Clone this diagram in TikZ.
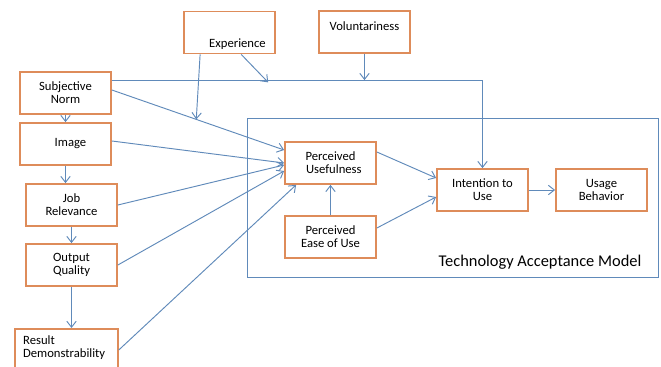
\documentclass[tikz,border=0pt]{standalone}
\usepackage{fontspec}
\setmainfont{Carlito}
\usetikzlibrary{arrows.meta}
\definecolor{boxorange}{RGB}{222,140,90}
\definecolor{lineblue}{RGB}{96,138,186}

\begin{document}
\begin{tikzpicture}[x=0.3mm,y=-0.3mm,
   box/.style={draw=boxorange,line width=1.5pt,fill=white,minimum width=2.73cm,minimum height=1.26cm,
      align=center,inner sep=1pt,font=\fontsize{10.8}{11}\selectfont},
   arr/.style={-{Straight Barb[length=1.8mm,width=2.8mm]},draw=lineblue,line width=0.8pt}]
   \clip (0,0) rectangle (661,367);
   \fill[white] (0,0) rectangle (661,367);

   \draw[lineblue,line width=0.8pt] (247,118) rectangle (658,277);
   \node (tam) at (540,262) {\fontsize{14}{16}\selectfont Technology Acceptance Model};

   \node[box,label={[xshift=2.4mm,yshift=-3.6mm]center:\fontsize{10.8}{11}\selectfont Experience}] (exp) at (229.5,32.5) {};
   \node[box] (vol) at (364.5,32) {Voluntariness\\[-1pt]};
   \node[box] (sn) at (65.5,93) {Subjective\\Norm};
   \node[box] (img) at (65.5,144) {\hspace{3mm}Image};
   \node[box] (jr) at (71.5,205) {Job\\Relevance};
   \node[box] (oq) at (71.5,265) {Output\\Quality};
   \node[box,minimum width=3.09cm,minimum height=1.5cm,anchor=north west,
      label={[anchor=north west,align=left,xshift=1.5mm,yshift=-1.2mm,font=\fontsize{10.8}{11}\selectfont]north west:Result\\Demonstrability}] (rd) at (14,328) {};
   \node[box] (pu) at (330.5,163) {Perceived\\\hspace{2mm}Usefulness};
   \node[box] (peou) at (330.5,237) {Perceived\\Ease of Use};
   \node[box] (itu) at (482.5,190) {Intention to\\Use};
   \node[box] (ub) at (601.5,190) {Usage\\Behavior};

   \coordinate (bus) at ([yshift=-2.7mm]sn.north east);
   \draw[arr] (bus) -| (itu.north);
   \draw[arr] (vol.south) -- (vol.south |- bus);
   \draw[arr] ([xshift=3.5mm]exp.south) -- ++(27,28);
   \draw[arr] ([yshift=0.9mm]sn.east) -- ([yshift=3.9mm]pu.west) coordinate[pos=0.49] (mid);
   \draw[arr] ([xshift=5.1mm]exp.south west) -- (mid);

   \draw[arr] ([yshift=0.9mm]img.east) -- (pu.west);
   \draw[arr] (jr.east) -- ([yshift=-0.6mm]pu.west);
   \draw[arr] (oq.east) -- ([yshift=-2.4mm]pu.west);
   \draw[arr] (rd.east |- 0,350) -- ([xshift=3.6mm]pu.south west);

   \draw[arr] (sn.south) -- (img.north);
   \draw[arr] (img.south) -- (img.south |- jr.north);
   \draw[arr] (jr.south) -- (oq.north);
   \draw[arr] (oq.south) -- (oq.south |- rd.north);

   \draw[arr] (peou.north) -- (pu.south);
   \draw[arr] ([yshift=3.3mm]pu.east) -- ([yshift=3.6mm]itu.west);
   \draw[arr] ([yshift=2.7mm]peou.east) -- ([yshift=-2.1mm]itu.west);
   \draw[arr] (itu.east) -- (ub.west);
 \end{tikzpicture}
\end{document}
